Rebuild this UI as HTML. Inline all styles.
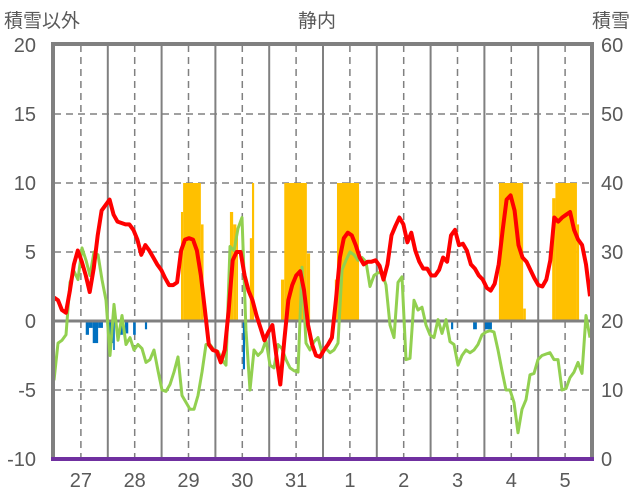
<!DOCTYPE html>
<html><head><meta charset="utf-8">
<style>
html,body{margin:0;padding:0;background:#fff;}
svg{display:block;font-family:"Liberation Sans","Noto Sans CJK JP",sans-serif;}
</style></head>
<body>
<svg id="chart" width="636" height="501" viewBox="0 0 636 501"></svg>
<script>
const dayLabels=["27","28","29","30","31","1","2","3","4","5"];
const leftTicks=[-10,-5,0,5,10,15,20];
const rightTicks=[0,10,20,30,40,50,60];
const redValues=[1.7,1.5,0.8,0.6,2.2,4.1,5.1,4.3,3.3,2.1,3.8,6.2,8.0,8.4,8.8,7.7,7.2,7.1,7.0,7.0,6.6,5.9,4.8,5.5,5.1,4.6,4.1,3.7,3.1,2.6,2.6,2.8,5.1,5.9,6.0,5.9,5.1,3.3,0.8,-1.7,-2.1,-2.2,-3.0,-2.1,0.8,4.4,5.0,5.0,3.3,2.2,1.5,0.4,-0.5,-1.4,-0.8,-0.3,-2.5,-4.6,-1.4,1.5,2.6,3.3,3.6,2.2,-0.3,-1.7,-2.5,-2.6,-2.1,-1.7,-1.2,1.5,4.6,6.0,6.4,6.2,5.5,4.6,4.1,4.3,4.3,4.4,4.0,3.0,4.1,6.2,6.9,7.5,7.0,5.7,6.4,5.1,4.3,3.8,3.8,3.3,3.3,3.7,4.6,4.3,6.2,6.6,5.5,5.6,5.1,4.1,3.8,3.3,3.0,2.4,2.2,2.7,4.1,6.6,8.8,9.1,8.0,5.5,4.6,4.3,3.7,3.1,2.6,2.5,3.0,4.4,7.5,7.2,7.5,7.7,7.9,6.6,5.9,5.5,4.1,1.8];
const greenValues=[-4.3,-1.6,-1.4,-1.0,2.8,3.6,3.0,5.3,4.4,3.3,5.0,4.8,3.0,1.5,-2.5,1.2,-1.4,0.4,-1.7,-1.2,-2.1,-1.7,-2.0,-3.0,-2.8,-2.1,-3.6,-5.0,-5.1,-4.6,-3.7,-2.6,-5.4,-5.9,-6.4,-6.4,-5.4,-3.7,-1.7,-1.7,-2.1,-2.2,-2.8,-3.2,5.4,5.1,6.7,7.5,-0.7,-5.0,-2.1,-2.5,-2.2,-1.4,-3.2,-3.4,-1.7,-2.0,-2.8,-3.4,-3.6,-3.7,3.9,-1.6,-2.1,-1.5,-1.2,-2.3,-2.0,-2.3,-2.1,-1.6,3.7,4.4,5.0,4.8,4.4,4.6,4.3,2.5,3.3,3.5,3.5,2.6,-0.3,-1.2,2.8,3.2,-2.8,-2.7,1.5,0.8,1.0,-0.3,-1.0,-1.2,0.1,-0.9,0.1,-1.5,-1.7,-3.2,-2.5,-2.1,-2.3,-2.1,-1.7,-1.0,-0.8,-0.7,-0.8,-2.1,-3.6,-5.0,-5.0,-5.9,-8.1,-6.4,-5.7,-3.9,-3.8,-2.8,-2.5,-2.4,-2.3,-2.8,-2.8,-5.0,-4.9,-4.1,-3.7,-3.0,-3.8,0.4,-1.2];
const snowStart=[2.36,2.40,2.73,3.27,3.33,3.39,3.64,3.68,4.22,4.28,4.70,5.22,5.26,8.27,8.72,9.26,9.32,9.72];
const snowEnd=[2.40,2.73,2.78,3.33,3.39,3.42,3.68,3.72,4.28,4.70,4.76,5.26,5.67,8.72,8.77,9.32,9.72,9.76];
const snowValues=[7.9,10,7,7.9,7,6.6,6,10,3,10,4.9,3,10,10,0.9,8.9,10,7];
const blueStart=[0.59,0.65,0.72,0.82,1.02,1.10,1.23,1.32,1.47,1.69,3.51,7.38,7.79,8.01];
const blueEnd=[0.65,0.72,0.82,0.91,1.10,1.13,1.28,1.38,1.52,1.73,3.55,7.42,7.86,8.14];
const blueValues=[-1.0,-0.5,-1.6,-0.5,-1.6,-2.1,-1.0,-0.9,-1.0,-0.6,-3.5,-0.6,-0.6,-0.6];

const NS="http://www.w3.org/2000/svg";
const svg=document.getElementById("chart");
const X0=54,X1=592,Y0=45,Y1=459;
const xDay=d=>X0+d*(X1-X0)/10;
const yL=v=>Y1-(v+10)*(Y1-Y0)/30;
const yR=v=>Y1-v*(Y1-Y0)/60;
function mk(tag,attrs,parent){const e=document.createElementNS(NS,tag);for(const k in attrs)e.setAttribute(k,attrs[k]);(parent||svg).appendChild(e);return e;}

leftTicks.forEach(t=>{
  if(t===-10||t===20||t===0)return;
  const l=mk("line",{x1:X0,x2:X1,y1:yL(t),y2:yL(t),stroke:"#808080","stroke-width":1.5,"stroke-dasharray":"7,5"});
  
  
});
for(let d=0;d<10;d++){
  const m=mk("line",{x1:xDay(d+0.5),x2:xDay(d+0.5),y1:Y0,y2:Y1,stroke:"#808080","stroke-width":1.5,"stroke-dasharray":"7,5"});
  
  
  if(d>0){
    const s=mk("line",{x1:xDay(d),x2:xDay(d),y1:Y0,y2:Y1,stroke:"#808080","stroke-width":2});
    
    
  }
}
snowValues.forEach((v,i)=>{
  const r=mk("rect",{x:xDay(snowStart[i]),y:yL(v),width:xDay(snowEnd[i])-xDay(snowStart[i]),height:yL(0)-yL(v),fill:"#FFC000"});
  
  
});
blueValues.forEach((v,i)=>{
  const r=mk("rect",{x:xDay(blueStart[i]),y:yL(0),width:xDay(blueEnd[i])-xDay(blueStart[i]),height:yL(v)-yL(0),fill:"#0070C0"});
  
  
});
const z=mk("line",{x1:X0,x2:X1,y1:yL(0),y2:yL(0),stroke:"#808080","stroke-width":3});


function series(vals,color,w,name){
  const step=(590-X0)/(vals.length-1);
  const pts=vals.map((v,i)=>(X0+i*step).toFixed(1)+","+yL(v).toFixed(1)).join(" ");
  const p=mk("polyline",{points:pts,fill:"none",stroke:color,"stroke-width":w,"stroke-linejoin":"round"});
  
  
}
series(greenValues,"#92D050",3,"green-series");
series(redValues,"#FF0000",4,"red-series");
const fr=mk("path",{d:`M${X0-1},${Y1} L${X0-1},${Y0-1} L${X1},${Y0-1} L${X1},${Y1}`,fill:"none",stroke:"#808080","stroke-width":4});


const bl=mk("line",{x1:X0-3,x2:X1+2,y1:Y1,y2:Y1,stroke:"#7030A0","stroke-width":4});


leftTicks.forEach(t=>{
  const e=mk("text",{x:36,y:yL(t)+7,"text-anchor":"end","font-size":20,fill:"#595959"});e.textContent=t;
  
  
});
rightTicks.forEach(t=>{
  const e=mk("text",{x:601,y:yR(t)+7,"text-anchor":"start","font-size":20,fill:"#595959"});e.textContent=t;
  
  
});
dayLabels.forEach((t,i)=>{
  const e=mk("text",{x:xDay(i+0.5),y:487,"text-anchor":"middle","font-size":20,fill:"#595959"});e.textContent=t;
  
  
});
</script>
<div style="position:absolute;left:0;top:0;width:636px;height:40px;font-family:'Liberation Sans','Noto Sans CJK JP',sans-serif;font-size:19px;color:#595959;">
  <span style="position:absolute;left:4px;top:6px;">積雪以外</span>
  <span style="position:absolute;left:298px;top:6px;">静内</span>
  <span style="position:absolute;right:6px;top:6px;">積雪</span>
</div>
</body></html>
